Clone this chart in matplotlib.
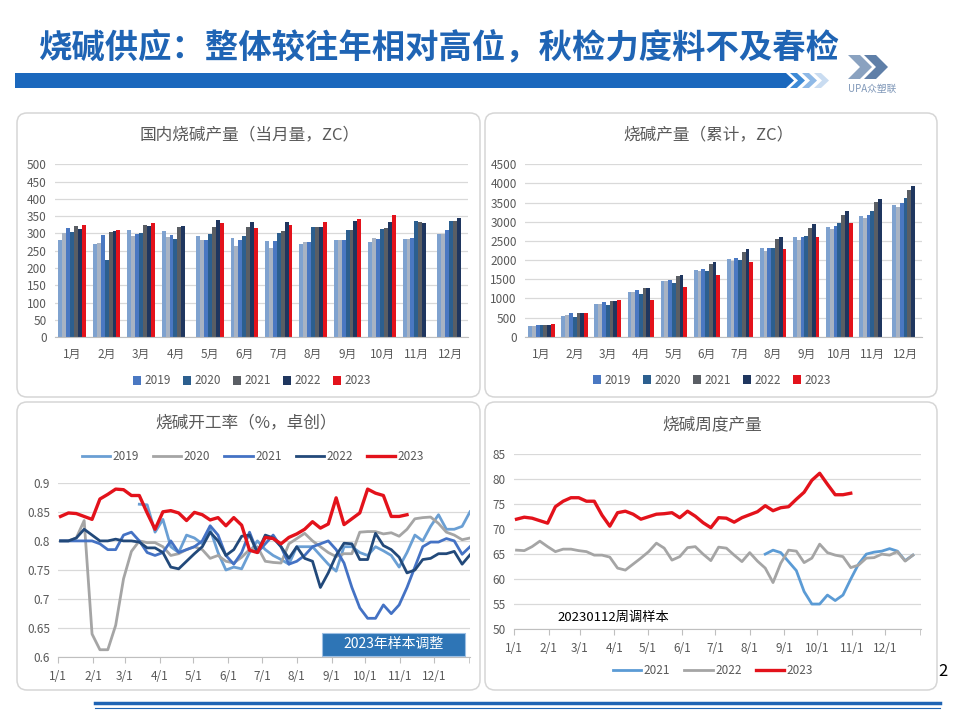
import matplotlib
matplotlib.use("Agg")
import matplotlib.pyplot as plt
from matplotlib.patches import FancyBboxPatch, Rectangle, Polygon
import numpy as np

plt.rcParams["font.family"] = ["Noto Sans CJK SC", "DejaVu Sans"]

nan = np.nan

# ---------------- data ----------------
months = ["1月", "2月", "3月", "4月", "5月", "6月", "7月", "8月", "9月", "10月", "11月", "12月"]
bar_years = ["2017", "2018", "2019", "2020", "2021", "2022", "2023"]

# monthly output (当月量)
m2017 = [281, 270, 309, 307, 292, 287, 279, 270, 281, 276, 283, 299]
m2018 = [300, 273, 293, 289, 282, 264, 259, 274, 281, 288, 283, 299]
m2019 = [315, 296, 298, 296, 282, 282, 279, 274, 281, 283, 287, 309]
m2020 = [303, 222, 300, 285, 298, 292, 301, 318, 310, 314, 337, 337]
m2021 = [321, 303, 326, 320, 318, 318, 307, 318, 310, 317, 332, 337]
m2022 = [312, 308, 323, 321, 340, 333, 333, 320, 337, 334, 329, 344]
m2023 = [324, 310, 331, nan, 329, 316, 326, 333, 341, 354, nan, nan]

# cumulative output (累计)
c2017 = [280, 540, 860, 1160, 1460, 1740, 2030, 2310, 2600, 2860, 3150, 3440]
c2018 = [290, 570, 860, 1160, 1450, 1710, 1970, 2240, 2530, 2810, 3090, 3390]
c2019 = [310, 610, 910, 1210, 1480, 1770, 2050, 2320, 2600, 2880, 3170, 3480]
c2020 = [295, 520, 830, 1110, 1400, 1710, 2010, 2320, 2640, 2960, 3290, 3620]
c2021 = [310, 620, 940, 1270, 1590, 1910, 2220, 2540, 2840, 3170, 3510, 3840]
c2022 = [310, 610, 940, 1260, 1600, 1950, 2280, 2590, 2930, 3270, 3600, 3940]
c2023 = [330, 630, 960, 960, 1300, 1610, 1940, 2280, 2610, 2980, nan, nan]

# weekly operating rate (开工率), first week index of each series
rate2019_start = 10
rate2019 = [0.863, 0.862, 0.815, 0.837, 0.79, 0.78, 0.81, 0.805, 0.795, 0.82,
            0.78, 0.75, 0.755, 0.752, 0.78, 0.80, 0.785, 0.775, 0.768, 0.76,
            0.79, 0.79, 0.79, 0.775, 0.76, 0.748, 0.79, 0.79, 0.78, 0.775,
            0.79, 0.783, 0.775, 0.755, 0.78, 0.81, 0.80, 0.825, 0.845, 0.82,
            0.82, 0.825, 0.85]
rate2020 = [0.80, 0.80, 0.805, 0.835, 0.64, 0.613, 0.613, 0.655, 0.735, 0.782,
            0.80, 0.797, 0.797, 0.79, 0.775, 0.778, 0.785, 0.79, 0.785, 0.77,
            0.775, 0.765, 0.762, 0.772, 0.785, 0.79, 0.765, 0.763, 0.762, 0.795,
            0.804, 0.813, 0.80, 0.79, 0.78, 0.773, 0.778, 0.778, 0.815, 0.816,
            0.816, 0.812, 0.814, 0.808, 0.82, 0.838, 0.84, 0.841, 0.83, 0.815,
            0.81, 0.802, 0.805]
rate2021 = [0.80, 0.80, 0.80, 0.80, 0.80, 0.795, 0.785, 0.785, 0.81, 0.815,
            0.80, 0.78, 0.775, 0.78, 0.80, 0.78, 0.785, 0.79, 0.80, 0.826,
            0.81, 0.775, 0.76, 0.78, 0.815, 0.78, 0.795, 0.81, 0.79, 0.76,
            0.765, 0.775, 0.79, 0.795, 0.80, 0.785, 0.762, 0.72, 0.685, 0.667,
            0.667, 0.69, 0.675, 0.69, 0.72, 0.755, 0.79, 0.798, 0.798, 0.804,
            0.80, 0.777, 0.79]
rate2022 = [0.80, 0.80, 0.805, 0.82, 0.81, 0.80, 0.80, 0.803, 0.80, 0.80,
            0.798, 0.788, 0.788, 0.78, 0.755, 0.752, 0.765, 0.778, 0.79, 0.815,
            0.80, 0.775, 0.785, 0.808, 0.81, 0.78, 0.81, 0.805, 0.79, 0.77,
            0.79, 0.77, 0.765, 0.72, 0.745, 0.775, 0.796, 0.795, 0.768, 0.768,
            0.813, 0.792, 0.785, 0.772, 0.745, 0.75, 0.768, 0.77, 0.778, 0.778,
            0.782, 0.76, 0.776]
rate2023 = [0.842, 0.848, 0.847, 0.842, 0.837, 0.872, 0.880, 0.889, 0.888, 0.878,
            0.878, 0.848, 0.820, 0.850, 0.852, 0.848, 0.835, 0.849, 0.845, 0.836,
            0.840, 0.826, 0.840, 0.827, 0.784, 0.780, 0.806, 0.804, 0.795, 0.806,
            0.812, 0.820, 0.833, 0.822, 0.829, 0.874, 0.828, 0.838, 0.848, 0.889,
            0.882, 0.878, 0.842, 0.842, 0.845]

# weekly output (周度产量)
week2021_start = 32
week2021 = [65.0, 65.8, 65.3, 63.5, 61.7, 57.5, 55.0, 55.0, 56.8, 55.7,
            56.8, 60.0, 63.0, 65.0, 65.4, 65.6, 66.1, 65.6, 63.7, 64.8]
week2022 = [65.8, 65.7, 66.5, 67.6, 66.5, 65.5, 66.0, 66.0, 65.7, 65.5,
            64.8, 64.8, 64.4, 62.2, 61.8, 63.0, 64.2, 65.5, 67.2, 66.2,
            63.8, 64.5, 66.3, 66.5, 65.0, 63.7, 66.4, 66.2, 64.8, 63.5,
            65.3, 63.6, 62.2, 59.3, 63.2, 65.8, 65.6, 63.3, 64.2, 67.0,
            65.3, 64.8, 64.5, 62.3, 62.8, 64.2, 64.3, 65.0, 64.8, 65.5,
            63.6, 64.8]
week2023 = [72.0, 72.4, 72.2, 71.7, 71.2, 74.5, 75.6, 76.3, 76.3, 75.6,
            75.6, 72.8, 70.6, 73.3, 73.6, 73.0, 72.0, 72.5, 73.0, 73.1,
            73.3, 72.3, 73.6, 72.6, 71.3, 70.3, 72.3, 72.2, 71.4, 72.3,
            72.9, 73.5, 74.7, 73.7, 74.3, 74.5, 76.0, 77.4, 79.8, 81.2,
            79.0, 76.9, 76.9, 77.2]

date_labels = ["1/1", "2/1", "3/1", "4/1", "5/1", "6/1", "7/1", "8/1", "9/1", "10/1", "11/1", "12/1"]
month_start_days = [0, 31, 59, 90, 120, 151, 181, 212, 243, 273, 304, 334]

# ---------------- styles ----------------
bar_colors = ["#7fa2cf", "#a8b3c3", "#4a78c2", "#2c5f8f", "#5a5e64", "#1f365f", "#e3121b"]
GRID = "#d9d9d9"
TXT = "#595959"

fig = plt.figure(figsize=(9.6, 7.2), dpi=100)
fig.patch.set_facecolor("white")


def fx(px):
    return px / 960


def fy(py):
    return 1 - py / 720


def px_box(x0, y0, x1, y1):
    # inches box from pixel corners (top-left origin)
    return x0 / 100, (720 - y1) / 100, (x1 - x0) / 100, (y1 - y0) / 100


# panels
for (x0, y0, x1, y1) in [(17, 113, 480, 397), (485, 113, 937, 397),
                         (17, 402, 480, 690), (485, 402, 937, 690)]:
    bx, by, bw, bh = px_box(x0, y0, x1, y1)
    fig.add_artist(FancyBboxPatch((bx, by), bw, bh, boxstyle="round,pad=0,rounding_size=0.1",
                                  transform=fig.dpi_scale_trans, facecolor="white",
                                  edgecolor="#d6d6d6", lw=1.1, zorder=-1))

# header
fig.text(fx(38), fy(47), "烧碱供应：整体较往年相对高位，秋检力度料不及春检",
         fontsize=24, fontweight="bold", color="#1f64b4", va="center", ha="left")


def pix_poly(points, color):
    pts = [(x / 100, (720 - y) / 100) for x, y in points]
    fig.add_artist(Polygon(pts, closed=True, transform=fig.dpi_scale_trans,
                           facecolor=color, edgecolor="none"))


pix_poly([(15, 73), (786, 73), (794, 80.5), (786, 88), (15, 88)], "#1b68bd")
pix_poly([(790, 73), (797, 73), (805, 80.5), (797, 88), (790, 88), (798, 80.5)], "#3d8ad6")
pix_poly([(802, 73), (809, 73), (817, 80.5), (809, 88), (802, 88), (810, 80.5)], "#8fb9e6")
pix_poly([(814, 73), (821, 73), (829, 80.5), (821, 88), (814, 88), (822, 80.5)], "#c9dcf1")
# logo
pix_poly([(848, 55), (860, 55), (872, 67), (860, 79), (848, 79), (860, 67)], "#8aa2c0")
pix_poly([(864, 55), (876, 55), (888, 67), (876, 79), (864, 79), (876, 67)], "#5f7fa8")
fig.text(fx(872), fy(89), "UPA众塑联", fontsize=7, color="#7f97b8", ha="center", va="center")

# footer
fig.add_artist(plt.Line2D([fx(95), fx(940)], [fy(703), fy(703)], color="#1f64b4", lw=2.5))
fig.add_artist(plt.Line2D([fx(95), fx(940)], [fy(708), fy(708)], color="#1f64b4", lw=0.8))
fig.text(fx(943), fy(672), "2", fontsize=12, color="black", ha="center", va="center")


def style_axes(ax):
    ax.set_facecolor("none")
    for s in ["top", "right", "left"]:
        ax.spines[s].set_visible(False)
    ax.spines["bottom"].set_color("#bfbfbf")
    ax.yaxis.grid(True, color=GRID, lw=0.9)
    ax.set_axisbelow(True)
    ax.tick_params(axis="y", length=0, labelsize=8.5, labelcolor=TXT, pad=6)
    ax.tick_params(axis="x", labelsize=8.5, labelcolor=TXT)


def bar_panel(rect, series, ymax, ystep, title, title_xy, legend_xy):
    ax = fig.add_axes(rect)
    style_axes(ax)
    x = np.arange(len(months))
    n = len(series)
    w = 0.8 / n
    handles = []
    for k, vals in enumerate(series):
        b = ax.bar(x - 0.4 + w * (k + 0.5), vals, width=w, color=bar_colors[k], linewidth=0)
        handles.append(b)
    ax.set_xlim(-0.5, len(months) - 0.5)
    ax.set_ylim(0, ymax)
    ax.set_yticks(np.arange(0, ymax + 1, ystep))
    ax.set_xticks(x)
    ax.set_xticklabels(months)
    ax.tick_params(axis="x", length=0, pad=8)
    fig.text(fx(title_xy[0]), fy(title_xy[1]), title, fontsize=12, color=TXT, ha="center", va="center")
    ax.legend(handles[2:], bar_years[2:], loc="center", ncol=5, frameon=False,
              bbox_to_anchor=(fx(legend_xy[0]), fy(legend_xy[1])), bbox_transform=fig.transFigure,
              fontsize=8.5, handlelength=0.7, handleheight=0.7, handletextpad=0.3,
              columnspacing=1.0, labelcolor=TXT)
    return ax


bar_panel([fx(55), fy(337.3), fx(413), 173 / 720],
          [m2017, m2018, m2019, m2020, m2021, m2022, m2023], 500, 50,
          "国内烧碱产量（当月量，ZC）", (250, 135), (252, 381))
bar_panel([fx(525), fy(336.7), fx(397), 172.4 / 720],
          [c2017, c2018, c2019, c2020, c2021, c2022, c2023], 4500, 500,
          "烧碱产量（累计，ZC）", (709, 135), (712, 380))


def week_days(values, start=0):
    return 2 + 7 * (start + np.arange(len(values)))


def line_axes(rect):
    ax = fig.add_axes(rect)
    style_axes(ax)
    ax.set_xlim(0, 366)
    ax.set_xticks(month_start_days)
    ax.set_xticklabels(date_labels)
    ax.set_xticks([365], minor=True)
    ax.tick_params(axis="x", which="both", direction="out", length=4, color="#bfbfbf", pad=5)
    return ax


# operating rate
ax3 = line_axes([fx(58.3), fy(657.3), fx(411.7), 174.6 / 720])
ax3.plot(week_days(rate2019, rate2019_start), rate2019, color="#6a9fd4", lw=2.0, label="2019")
ax3.plot(week_days(rate2020), rate2020, color="#a5a5a5", lw=2.0, label="2020")
ax3.plot(week_days(rate2021), rate2021, color="#4472c4", lw=2.0, label="2021")
ax3.plot(week_days(rate2022), rate2022, color="#22497a", lw=2.0, label="2022")
ax3.plot(week_days(rate2023), rate2023, color="#e3121b", lw=2.4, label="2023")
ax3.set_ylim(0.6, 0.9)
ax3.set_yticks([0.6, 0.65, 0.7, 0.75, 0.8, 0.85, 0.9])
ax3.set_yticklabels([f"{v:g}" for v in [0.6, 0.65, 0.7, 0.75, 0.8, 0.85, 0.9]])
ax3.legend(loc="center", ncol=5, frameon=False, bbox_to_anchor=(fx(253), fy(457)),
           bbox_transform=fig.transFigure, fontsize=8.5, handlelength=2.4,
           handletextpad=0.2, columnspacing=1.2, labelcolor=TXT)
ax3.add_patch(Rectangle((0.64, 0.008), 0.348, 0.133, transform=ax3.transAxes,
                        facecolor="#2e75b6", edgecolor="#9dbfe3", lw=0.8, zorder=5))
ax3.text(0.814, 0.075, "2023年样本调整", transform=ax3.transAxes, fontsize=10,
         color="white", ha="center", va="center", zorder=6)
fig.text(fx(246), fy(423), "烧碱开工率（%，卓创）", fontsize=12, color=TXT, ha="center", va="center")

# weekly output
ax4 = line_axes([fx(514.3), fy(629), fx(406.4), 174.7 / 720])
ax4.plot(week_days(week2021, week2021_start), week2021, color="#5b9bd5", lw=2.0, label="2021")
ax4.plot(week_days(week2022), week2022, color="#a5a5a5", lw=2.0, label="2022")
ax4.plot(week_days(week2023), week2023, color="#e3121b", lw=2.4, label="2023")
ax4.set_ylim(50, 85)
ax4.set_yticks(np.arange(50, 86, 5))
ax4.legend(loc="center", ncol=3, frameon=False, bbox_to_anchor=(fx(713), fy(671)),
           bbox_transform=fig.transFigure, fontsize=8.5, handlelength=2.4,
           handletextpad=0.2, columnspacing=1.2, labelcolor=TXT)
ax4.text(0.243, 0.069, "20230112周调样本", transform=ax4.transAxes, fontsize=9.5,
         color="black", ha="center", va="center")
fig.text(fx(712), fy(425), "烧碱周度产量", fontsize=12, color=TXT, ha="center", va="center")

fig.savefig("out.png", dpi=100)
